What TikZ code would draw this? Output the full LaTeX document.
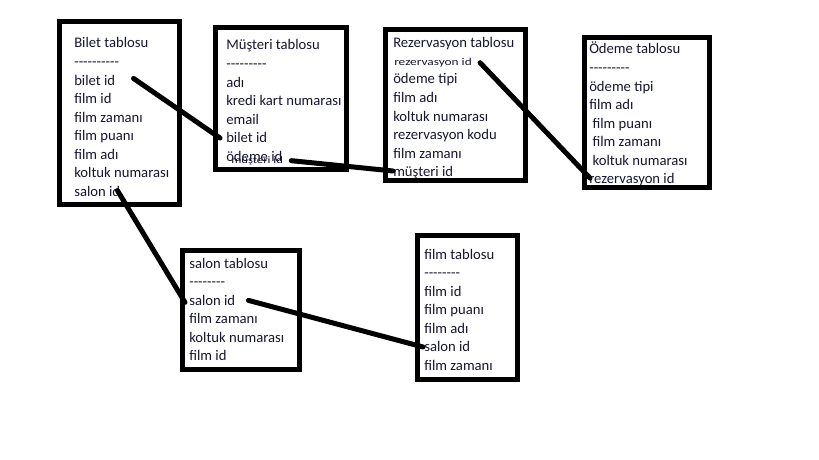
\documentclass[tikz,border=0pt]{standalone}
\usepackage{fontspec}
\setmainfont{Carlito}
\usepackage{xcolor}
\usepackage{tikz}
\usetikzlibrary{positioning}
\usetikzlibrary{calc}
\definecolor{ink}{RGB}{22,22,48}
\tikzstyle{field} = [anchor=base west, inner sep=0pt, text height=9pt,
text depth=2pt, text=ink, font=\fontsize{11}{13}\selectfont]
\tikzstyle{smallfield} = [field, text height=6pt, text depth=1pt,
font=\fontsize{10}{11}\selectfont]
\tikzstyle{tablebox} = [draw, line width=3.75pt, line join=miter]
\tikzstyle{link} = [draw, line width=3.75pt, line cap=round]
\tikzset{under/.style={below=2.5pt of #1.south west, anchor=north west}}
\newcommand\dashrow[1]{\foreach \d in {1,...,#1}{\mbox{-}}}
\newcommand\squash[1]{\scalebox{1}[0.78]{#1}}

\begin{document}
\begin{tikzpicture}[x=0.75pt, y=-0.75pt]
      \useasboundingbox (0,0) rectangle (819,460);
      %% Tables
      \path [tablebox] (59.5,21.5) rectangle (179.5,204.5);
      \path [tablebox] (215.5,28) rectangle (346.5,169.5);
      \path [tablebox] (385.5,29.5) rectangle (525.5,180.5);
      \path [tablebox] (584.5,37.5) rectangle (709.5,187.5);
      \path [tablebox] (182.5,250.5) rectangle (299.5,369.5);
      \path [tablebox] (417.5,235.5) rectangle (517.5,379.5);
      %% Bilet
      \node [field] (B0) at (74,48) {Bilet tablosu};
      \node [field, under=B0] (B1) {\dashrow{10}};
      \node [field, under=B1] (B2) {bilet id};
      \node [field, under=B2] (B3) {film id};
      \node [field, under=B3] (B4) {film zamanı};
      \node [field, under=B4] (B5) {film puanı};
      \node [field, under=B5] (B6) {film adı};
      \node [field, under=B6] (B7) {koltuk numarası};
      \node [field, under=B7] (B8) {salon id};
      %% Musteri
      \node [field] (M0) at (226,50) {Müşteri tablosu};
      \node [field, under=M0] (M1) {\dashrow{9}};
      \node [field, under=M1] (M2) {adı};
      \node [field, under=M2] (M3) {kredi kart numarası};
      \node [field, under=M3] (M4) {email};
      \node [field, under=M4] (M5) {bilet id};
      \node [field, under=M5] (M6) {ödeme id};
      \node [smallfield, font=\fontsize{9.5}{11}\selectfont] (M7) at (231,164) {\squash{müşteri id}};
      %% Rezervasyon
      \node [field] (R0) at (393,48) {Rezervasyon tablosu};
      \node [smallfield] (R1) at (394,66) {\squash{rezervasyon id}};
      \node [field] (R2) at (393,84) {ödeme tipi};
      \node [field, under=R2] (R3) {film adı};
      \node [field, under=R3] (R4) {koltuk numarası};
      \node [field, under=R4] (R5) {rezervasyon kodu};
      \node [field, under=R5] (R6) {film zamanı};
      \node [field, under=R6] (R7) {müşteri id};
      %% Odeme
      \node [field] (O0) at (589,54) {Ödeme tablosu};
      \node [field, under=O0] (O1) {\dashrow{9}};
      \node [field, under=O1] (O2) {ödeme tipi};
      \node [field, under=O2] (O3) {film adı};
      \node [field, under=O3] (O4) {~film puanı};
      \node [field, under=O4] (O5) {~film zamanı};
      \node [field, under=O5] (O6) {~koltuk numarası};
      \node [field, under=O6] (O7) {rezervasyon id};
      %% Salon
      \node [field] (S0) at (189,268) {salon tablosu};
      \node [field, under=S0] (S1) {\dashrow{8}};
      \node [field, under=S1] (S2) {salon id};
      \node [field, under=S2] (S3) {film zamanı};
      \node [field, under=S3] (S4) {koltuk numarası};
      \node [field, under=S4] (S5) {film id};
      %% Film
      \node [field] (F0) at (424,259) {film tablosu};
      \node [field, under=F0] (F1) {\dashrow{8}};
      \node [field, under=F1] (F2) {film id};
      \node [field, under=F2] (F3) {film puanı};
      \node [field, under=F3] (F4) {film adı};
      \node [field, under=F4] (F5) {salon id};
      \node [field, under=F5] (F6) {film zamanı};
      %% Keys
      \path [link] ($(B2.east)+(18,-2)$) -- ($(M5.west)+(-6,0)$);
      \path [link] ($(M7.east)+(8,0)$) -- ($(R7.west)+(0,-1)$);
      \path [link] ($(R1.east)+(8,0)$) -- ($(O7.west)+(1,-1)$);
      \path [link] ($(B8.east)+(-3,-1)$) -- ($(S2.west)+(-4,2)$);
      \path [link] ($(S2.east)+(13,0)$) -- ($(F5.west)+(-1,0)$);
    \end{tikzpicture}
\end{document}
